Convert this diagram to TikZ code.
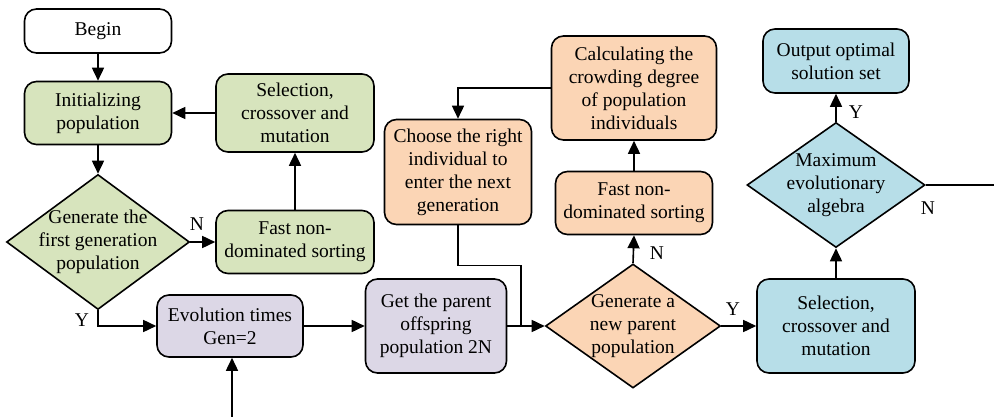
\documentclass[tikz,border=0pt]{standalone}
\usepackage{fontspec}
\setmainfont{Liberation Serif}
\usetikzlibrary{shapes.geometric,arrows.meta}
\definecolor{cgreen}{HTML}{D7E4BD}
\definecolor{cpurple}{HTML}{DCD7E6}
\definecolor{corange}{HTML}{FBD5B5}
\definecolor{cblue}{HTML}{B7DEE8}
\tikzset{
  box/.style={draw=black, line width=1.6pt, rounded corners=12pt, align=center, inner sep=0pt,
    font=\fontsize{19.5}{23}\selectfont},
  dia/.style={draw=black, line width=1.6pt, shape=diamond, inner sep=0pt},
  dtext/.style={align=center, inner sep=0pt, font=\fontsize{19.5}{23}\selectfont},
  lab/.style={inner sep=0pt, font=\fontsize{19.5}{23}\selectfont},
  line/.style={draw=black, line width=1.6pt},
  arr/.style={line, -{Triangle[length=13pt,width=12pt]}}
}
\begin{document}
\begin{tikzpicture}[x=1pt,y=-1pt]
\useasboundingbox (0,0) rectangle (994,417);
% green group
\node[box, fill=white, minimum width=147pt, minimum height=44pt] (begin) at (98,31) {Begin};
\node[box, fill=cgreen, minimum width=147pt, minimum height=63pt] (init) at (98,113) {Initializing\\population};
\node[dia, fill=cgreen, minimum width=183pt, minimum height=135pt] (d1) at (98,242) {};
\node[dtext] (d1t) at (98,242) {Generate the\\first generation\\population};
\node[box, fill=cgreen, minimum width=158pt, minimum height=78pt] (sel1) at (295,113) {Selection,\\crossover and\\mutation};
\node[box, fill=cgreen, minimum width=158pt, minimum height=63pt] (fast1) at (295,242) {Fast non-\\dominated sorting};
% purple
\node[box, fill=cpurple, minimum width=146pt, minimum height=62pt] (gen) at (230,326) {Evolution times\\Gen=2};
\node[box, fill=cpurple, minimum width=141pt, minimum height=94pt] (get) at (436,326) {Get the parent\\offspring\\population 2N};
% orange
\node[dia, fill=corange, minimum width=175pt, minimum height=124pt] (d2) at (633,326) {};
\node[dtext] (d2t) at (633,326) {Generate a\\new parent\\population};
\node[box, fill=corange, minimum width=157pt, minimum height=63pt] (fast2) at (634,203) {Fast non-\\dominated sorting};
\node[box, fill=corange, minimum width=165pt, minimum height=104pt] (calc) at (634,88) {Calculating the\\crowding degree\\of population\\individuals};
\node[box, fill=corange, minimum width=147pt, minimum height=105pt] (choose) at (458,172) {Choose the right\\individual to\\enter the next\\generation};
% blue
\node[box, fill=cblue, minimum width=158pt, minimum height=94pt] (sel2) at (836,326) {Selection,\\crossover and\\mutation};
\node[dia, fill=cblue, minimum width=178pt, minimum height=125pt] (d3) at (836,185) {};
\node[dtext] (d3t) at (836,185) {Maximum\\evolutionary\\algebra};
\node[box, fill=cblue, minimum width=146pt, minimum height=64pt] (out) at (836,61) {Output optimal\\solution set};
% labels
\node[lab] (n1) at (197,224) {N};
\node[lab] (y1) at (82,320) {Y};
\node[lab] (n2) at (657,253) {N};
\node[lab] (y2) at (733,309) {Y};
\node[lab] (y3) at (856,112) {Y};
\node[lab] (n3) at (928,208) {N};
% coordinates
\coordinate (m2) at (521,326);
\coordinate (e3) at (994,185);
\coordinate (b1) at (232,417);
% connectors
\draw[arr] (begin) -- (init);
\draw[arr] (init) -- (d1);
\draw[arr] (sel1) -- (init);
\draw[arr] (fast1) -- (sel1);
\draw[arr] (d1.east) -- (fast1.west);
\draw[arr] (d1.south) |- (gen.west);
\draw[arr] (gen) -- (get);
\draw[arr] (get.east) -- (d2.west);
\draw[line] (choose.south) -- ++(0,40) -| (m2);
\draw[arr] (d2.north) -- (fast2.south);
\draw[arr] (fast2) -- (calc);
\draw[arr] (calc.west) -| (choose.north);
\draw[arr] (d2.east) -- (sel2.west);
\draw[arr] (sel2) -- (d3.south);
\draw[arr] (d3.north) -- (out);
\draw[line] (d3.east) -- (e3);
\draw[arr] (b1) -- (b1 |- gen.south);
\end{tikzpicture}
\end{document}
